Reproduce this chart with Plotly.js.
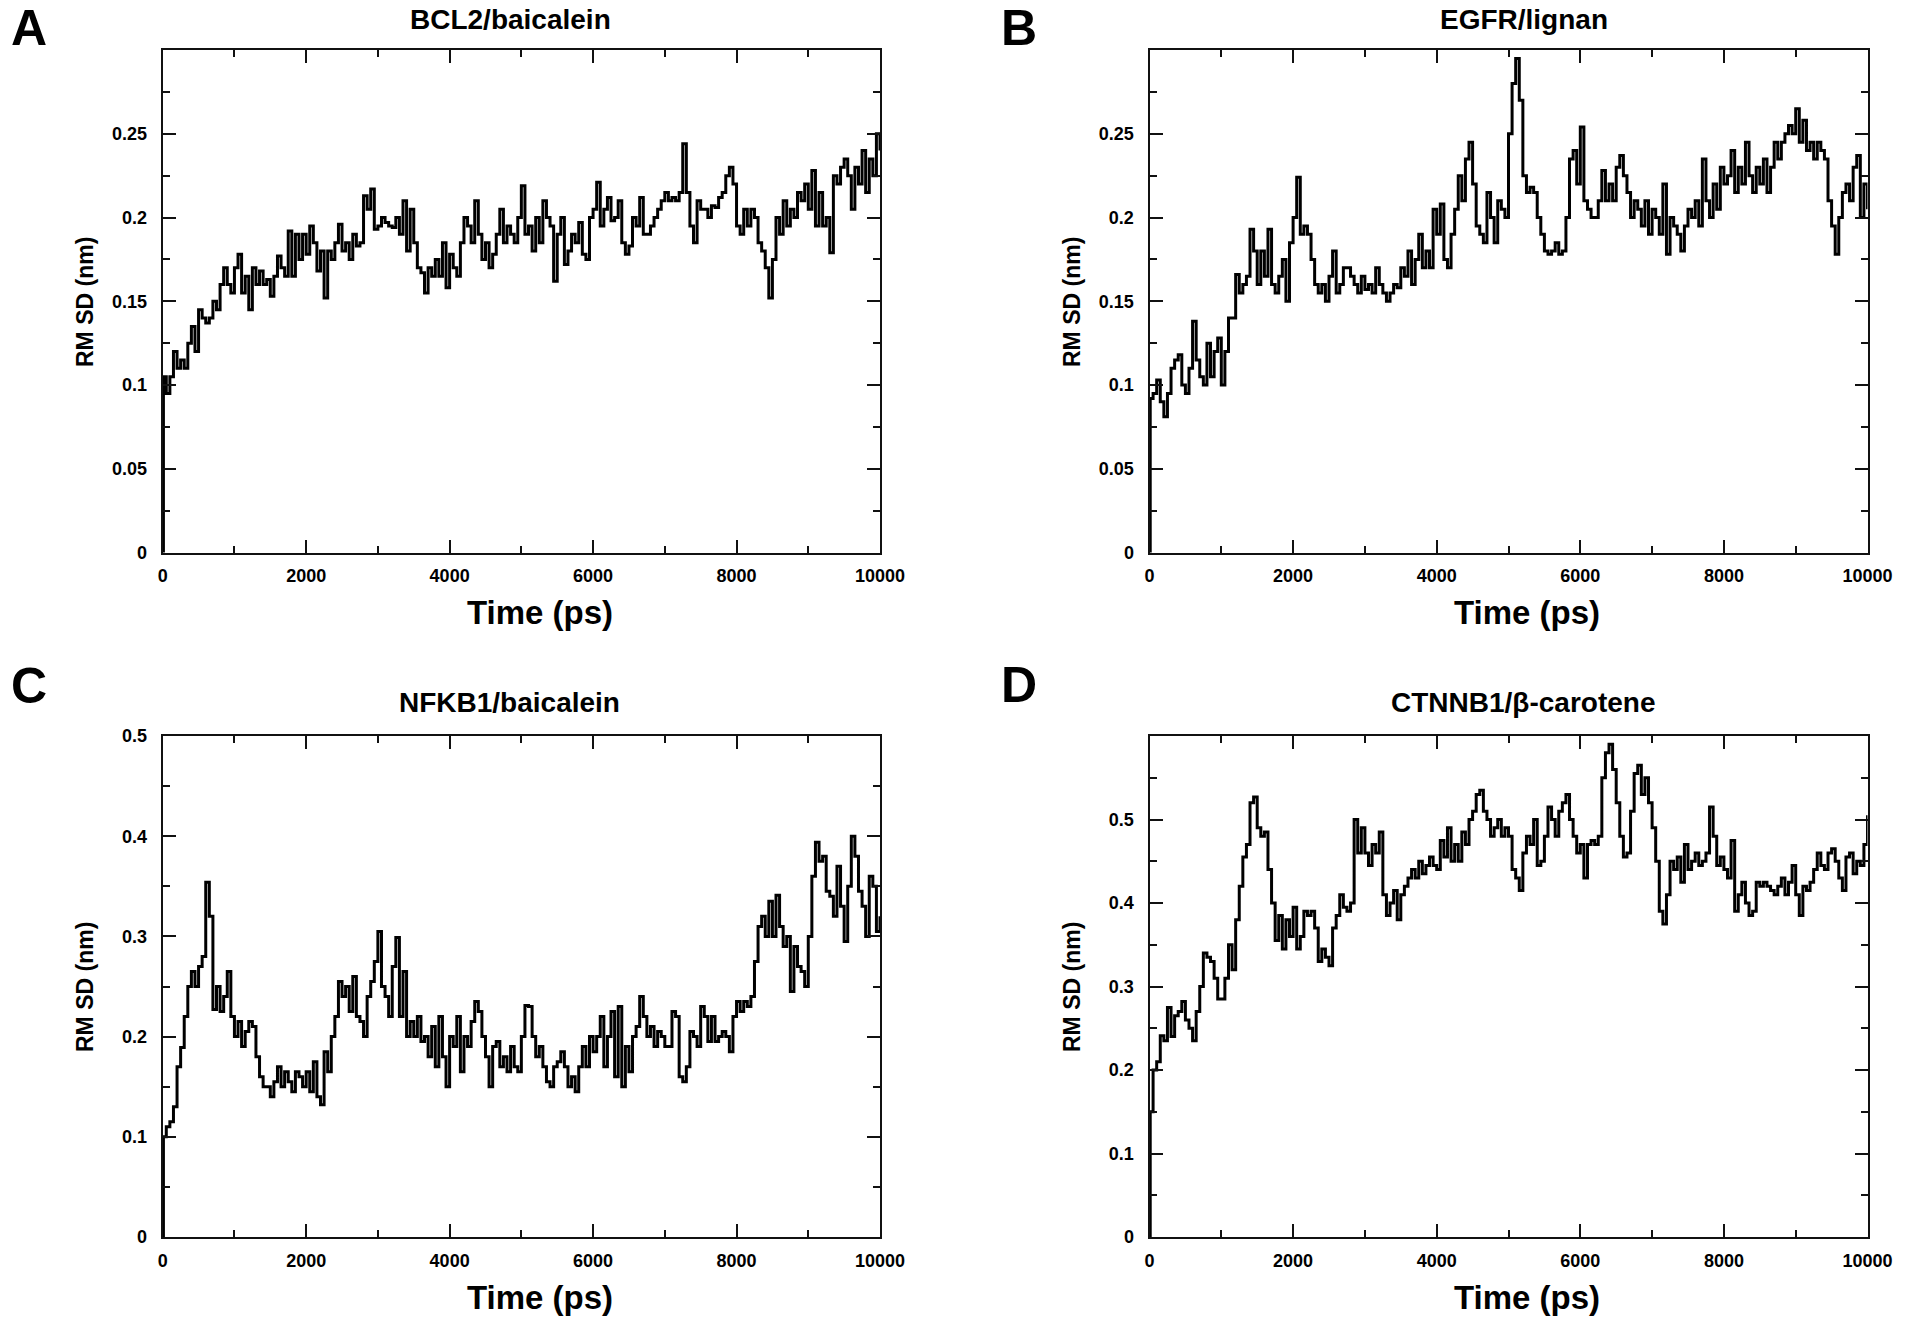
<!DOCTYPE html>
<html>
<head>
<meta charset="utf-8">
<script src="https://cdn.plot.ly/plotly-3.0.1.min.js"></script>
<style>html,body{margin:0;padding:0;background:#fff;}#chart{width:1905px;height:1327px;}</style>
</head>
<body>
<div id="chart"></div>
<script>
// ---- data (RMSD in nm, sampled at 0, 10, then every 50 ps) ----
const panelLetters = ["A", "B", "C", "D"];
const panelTitles = ["BCL2/baicalein", "EGFR/lignan", "NFKB1/baicalein", "CTNNB1/β-carotene"];
const xTickVals = [0, 2000, 4000, 6000, 8000, 10000];
const xTickText = ["0", "2000", "4000", "6000", "8000", "10000"];
const yTickValsAB = [0, 0.05, 0.1, 0.15, 0.2, 0.25];
const yTickTextAB = ["0", "0.05", "0.1", "0.15", "0.2", "0.25"];
const yTickValsC = [0, 0.1, 0.2, 0.3, 0.4, 0.5];
const yTickTextC = ["0", "0.1", "0.2", "0.3", "0.4", "0.5"];
const yTickValsD = [0, 0.1, 0.2, 0.3, 0.4, 0.5];
const yTickTextD = ["0", "0.1", "0.2", "0.3", "0.4", "0.5"];

const timePs = [0, 10];
for (let t = 50; t <= 10000; t += 50) timePs.push(t);

const rmsdBCL2 = [0, 0.105,
  0.095, 0.105, 0.12, 0.11, 0.115, 0.11, 0.125, 0.135, 0.12, 0.145,
  0.14, 0.137, 0.14, 0.15, 0.145, 0.16, 0.17, 0.16, 0.155, 0.17,
  0.178, 0.155, 0.165, 0.145, 0.17, 0.16, 0.168, 0.16, 0.163, 0.153,
  0.165, 0.177, 0.17, 0.165, 0.192, 0.165, 0.19, 0.175, 0.19, 0.178,
  0.195, 0.185, 0.168, 0.18, 0.152, 0.18, 0.175, 0.185, 0.196, 0.18,
  0.185, 0.175, 0.19, 0.183, 0.185, 0.213, 0.205, 0.217, 0.193, 0.195,
  0.2, 0.197, 0.195, 0.194, 0.2, 0.19, 0.21, 0.18, 0.205, 0.185,
  0.17, 0.167, 0.155, 0.17, 0.165, 0.175, 0.165, 0.185, 0.158, 0.178,
  0.17, 0.165, 0.185, 0.2, 0.195, 0.185, 0.21, 0.19, 0.175, 0.185,
  0.17, 0.178, 0.19, 0.205, 0.185, 0.195, 0.19, 0.185, 0.2, 0.219,
  0.19, 0.195, 0.18, 0.2, 0.185, 0.21, 0.2, 0.195, 0.162, 0.19,
  0.2, 0.172, 0.18, 0.19, 0.185, 0.197, 0.178, 0.175, 0.2, 0.205,
  0.221, 0.195, 0.205, 0.212, 0.198, 0.2, 0.21, 0.185, 0.178, 0.183,
  0.2, 0.195, 0.212, 0.19, 0.19, 0.195, 0.2, 0.205, 0.21, 0.215,
  0.21, 0.212, 0.21, 0.215, 0.244, 0.215, 0.195, 0.185, 0.21, 0.205,
  0.205, 0.2, 0.207, 0.206, 0.212, 0.215, 0.225, 0.23, 0.22, 0.195,
  0.19, 0.205, 0.195, 0.205, 0.2, 0.185, 0.18, 0.17, 0.152, 0.175,
  0.2, 0.19, 0.21, 0.195, 0.205, 0.2, 0.215, 0.21, 0.22, 0.205,
  0.228, 0.195, 0.215, 0.195, 0.2, 0.179, 0.225, 0.22, 0.23, 0.235,
  0.225, 0.205, 0.23, 0.22, 0.24, 0.215, 0.235, 0.225, 0.25, 0.24];

const rmsdEGFR = [0, 0.092,
  0.095, 0.103, 0.09, 0.081, 0.095, 0.11, 0.115, 0.118, 0.1, 0.095,
  0.11, 0.138, 0.115, 0.105, 0.1, 0.125, 0.105, 0.12, 0.128, 0.1,
  0.12, 0.14, 0.14, 0.166, 0.155, 0.16, 0.165, 0.193, 0.18, 0.16,
  0.18, 0.165, 0.193, 0.16, 0.155, 0.165, 0.175, 0.15, 0.185, 0.2,
  0.224, 0.19, 0.195, 0.19, 0.175, 0.16, 0.155, 0.16, 0.15, 0.165,
  0.18, 0.155, 0.16, 0.17, 0.17, 0.165, 0.16, 0.155, 0.165, 0.157,
  0.16, 0.155, 0.17, 0.16, 0.155, 0.15, 0.155, 0.16, 0.158, 0.17,
  0.165, 0.18, 0.16, 0.175, 0.19, 0.17, 0.18, 0.17, 0.205, 0.19,
  0.208, 0.175, 0.17, 0.19, 0.205, 0.225, 0.21, 0.235, 0.245, 0.22,
  0.195, 0.19, 0.185, 0.215, 0.2, 0.185, 0.21, 0.205, 0.2, 0.25,
  0.28, 0.295, 0.27, 0.225, 0.215, 0.218, 0.215, 0.2, 0.19, 0.18,
  0.178, 0.18, 0.185, 0.178, 0.18, 0.2, 0.235, 0.24, 0.22, 0.254,
  0.21, 0.205, 0.2, 0.2, 0.21, 0.228, 0.21, 0.22, 0.21, 0.23,
  0.237, 0.225, 0.215, 0.2, 0.21, 0.205, 0.195, 0.21, 0.19, 0.205,
  0.2, 0.19, 0.22, 0.178, 0.2, 0.195, 0.19, 0.18, 0.195, 0.205,
  0.2, 0.21, 0.195, 0.235, 0.21, 0.2, 0.22, 0.205, 0.23, 0.22,
  0.225, 0.24, 0.215, 0.23, 0.22, 0.245, 0.225, 0.215, 0.23, 0.22,
  0.235, 0.215, 0.23, 0.245, 0.235, 0.245, 0.25, 0.255, 0.25, 0.265,
  0.245, 0.258, 0.24, 0.245, 0.235, 0.245, 0.24, 0.235, 0.21, 0.195,
  0.178, 0.2, 0.215, 0.22, 0.21, 0.23, 0.237, 0.2, 0.22, 0.205];

const rmsdNFKB1 = [0, 0.1,
  0.11, 0.115, 0.13, 0.17, 0.189, 0.22, 0.25, 0.265, 0.25, 0.27,
  0.28, 0.354, 0.32, 0.227, 0.25, 0.225, 0.24, 0.265, 0.22, 0.2,
  0.215, 0.19, 0.205, 0.215, 0.21, 0.18, 0.16, 0.15, 0.15, 0.14,
  0.155, 0.17, 0.15, 0.165, 0.155, 0.145, 0.165, 0.16, 0.15, 0.165,
  0.145, 0.175, 0.14, 0.132, 0.185, 0.165, 0.2, 0.22, 0.255, 0.24,
  0.25, 0.225, 0.26, 0.22, 0.215, 0.2, 0.24, 0.255, 0.275, 0.305,
  0.25, 0.24, 0.22, 0.27, 0.299, 0.22, 0.265, 0.2, 0.215, 0.2,
  0.22, 0.195, 0.2, 0.18, 0.21, 0.17, 0.22, 0.18, 0.15, 0.2,
  0.19, 0.22, 0.165, 0.2, 0.19, 0.215, 0.235, 0.225, 0.2, 0.18,
  0.15, 0.19, 0.195, 0.17, 0.18, 0.165, 0.19, 0.17, 0.165, 0.2,
  0.231, 0.23, 0.2, 0.18, 0.19, 0.17, 0.155, 0.15, 0.17, 0.175,
  0.185, 0.17, 0.15, 0.16, 0.145, 0.17, 0.19, 0.17, 0.2, 0.185,
  0.2, 0.22, 0.17, 0.2, 0.225, 0.16, 0.23, 0.15, 0.19, 0.165,
  0.2, 0.21, 0.24, 0.22, 0.2, 0.21, 0.19, 0.205, 0.2, 0.19,
  0.19, 0.225, 0.22, 0.16, 0.155, 0.17, 0.205, 0.2, 0.19, 0.23,
  0.22, 0.195, 0.22, 0.195, 0.2, 0.205, 0.2, 0.185, 0.22, 0.235,
  0.225, 0.235, 0.23, 0.24, 0.275, 0.31, 0.32, 0.3, 0.335, 0.3,
  0.341, 0.31, 0.29, 0.3, 0.245, 0.29, 0.27, 0.265, 0.25, 0.3,
  0.36, 0.394, 0.375, 0.38, 0.345, 0.34, 0.32, 0.37, 0.33, 0.295,
  0.35, 0.4, 0.38, 0.345, 0.33, 0.3, 0.36, 0.35, 0.305, 0.32];

const rmsdCTNNB1 = [0, 0.15,
  0.2, 0.21, 0.241, 0.235, 0.275, 0.24, 0.265, 0.27, 0.282, 0.26,
  0.25, 0.235, 0.27, 0.3, 0.34, 0.335, 0.33, 0.31, 0.285, 0.285,
  0.31, 0.35, 0.32, 0.38, 0.42, 0.455, 0.47, 0.52, 0.527, 0.49,
  0.48, 0.485, 0.44, 0.4, 0.355, 0.385, 0.345, 0.38, 0.36, 0.395,
  0.345, 0.36, 0.39, 0.385, 0.39, 0.37, 0.33, 0.345, 0.335, 0.325,
  0.37, 0.385, 0.41, 0.395, 0.39, 0.4, 0.5, 0.46, 0.49, 0.46,
  0.445, 0.47, 0.46, 0.485, 0.41, 0.385, 0.4, 0.415, 0.38, 0.41,
  0.42, 0.43, 0.44, 0.43, 0.45, 0.435, 0.445, 0.455, 0.445, 0.44,
  0.475, 0.455, 0.49, 0.45, 0.47, 0.45, 0.485, 0.47, 0.5, 0.51,
  0.53, 0.535, 0.51, 0.5, 0.48, 0.49, 0.5, 0.48, 0.49, 0.48,
  0.44, 0.43, 0.415, 0.46, 0.48, 0.47, 0.5, 0.445, 0.45, 0.48,
  0.515, 0.5, 0.48, 0.51, 0.52, 0.53, 0.5, 0.48, 0.46, 0.47,
  0.43, 0.47, 0.475, 0.47, 0.48, 0.55, 0.58, 0.59, 0.56, 0.52,
  0.48, 0.455, 0.46, 0.51, 0.555, 0.565, 0.53, 0.55, 0.52, 0.49,
  0.45, 0.39, 0.375, 0.41, 0.45, 0.44, 0.455, 0.425, 0.47, 0.44,
  0.45, 0.46, 0.445, 0.45, 0.46, 0.515, 0.48, 0.445, 0.455, 0.44,
  0.43, 0.475, 0.39, 0.41, 0.425, 0.4, 0.385, 0.39, 0.425, 0.42,
  0.425, 0.42, 0.415, 0.41, 0.42, 0.43, 0.41, 0.425, 0.445, 0.41,
  0.385, 0.42, 0.415, 0.425, 0.44, 0.46, 0.445, 0.44, 0.46, 0.465,
  0.45, 0.43, 0.415, 0.455, 0.46, 0.435, 0.45, 0.445, 0.47, 0.505];

// ---- layout geometry (pixels) ----
const W = 1905, H = 1327;
const FONT = "Liberation Sans, Arial, sans-serif";
const colL = [162.7, 880], colR = [1149.5, 1867.5];
const rowT = [50, 552.5], rowB = [736, 1237];
const fx = p => p / W, fy = p => 1 - p / H;

function xAxis(col, anchor) {
  return {
    domain: [fx(col[0]), fx(col[1])], anchor: anchor,
    range: [0, 10000], tickmode: "array", tickvals: xTickVals, ticktext: xTickText,
    ticks: "inside", ticklen: 13, tickwidth: 2, tickcolor: "#111",
    minor: {dtick: 1000, tick0: 0, ticks: "inside", ticklen: 7, tickwidth: 2, tickcolor: "#111"},
    showline: true, linewidth: 2, linecolor: "#111", mirror: "allticks",
    showgrid: false, zeroline: false, fixedrange: true,
    ticklabelstandoff: 6,
    tickfont: {family: FONT, size: 18, color: "#000", weight: "bold"}
  };
}
function yAxis(row, anchor, maxV, vals, text, minorStep) {
  return {
    domain: [fy(row[1]), fy(row[0])], anchor: anchor,
    range: [0, maxV], tickmode: "array", tickvals: vals, ticktext: text,
    ticks: "inside", ticklen: 13, tickwidth: 2, tickcolor: "#111",
    minor: {dtick: minorStep, tick0: 0, ticks: "inside", ticklen: 7, tickwidth: 2, tickcolor: "#111"},
    showline: true, linewidth: 2, linecolor: "#111", mirror: "allticks",
    showgrid: false, zeroline: false, fixedrange: true,
    ticklabelstandoff: 10,
    tickfont: {family: FONT, size: 18, color: "#000", weight: "bold"}
  };
}

const series = [rmsdBCL2, rmsdEGFR, rmsdNFKB1, rmsdCTNNB1];
const traces = series.map((vals, i) => ({
  x: timePs, y: vals, type: "scatter", mode: "lines",
  line: {color: "#000", width: 3, shape: "hv"},
  xaxis: i === 0 ? "x" : "x" + (i + 1), yaxis: i === 0 ? "y" : "y" + (i + 1),
  hoverinfo: "skip", showlegend: false
}));

const ann = [];
const letterPos = [[29, 28], [1019, 28], [29, 686], [1019, 685]];
const titlePos = [[511, 19], [1524, 19], [509, 702], [1523, 702]];
const yLabPos = [[85, 302], [1072, 302], [85, 987], [1072, 987]];
const xLabPos = [[540, 612], [1527, 612], [540, 1297], [1527, 1297]];
for (let i = 0; i < 4; i++) {
  ann.push({text: panelLetters[i], x: fx(letterPos[i][0]), y: fy(letterPos[i][1]), xref: "paper", yref: "paper",
    showarrow: false, xanchor: "center", yanchor: "middle", font: {family: FONT, size: 50, color: "#000", weight: "bold"}});
  ann.push({text: panelTitles[i], x: fx(titlePos[i][0]), y: fy(titlePos[i][1]), xref: "paper", yref: "paper",
    showarrow: false, xanchor: "center", yanchor: "middle", font: {family: FONT, size: 28, color: "#000", weight: "bold"}});
  ann.push({text: "RM SD (nm)", x: fx(yLabPos[i][0]), y: fy(yLabPos[i][1]), xref: "paper", yref: "paper", textangle: -90,
    showarrow: false, xanchor: "center", yanchor: "middle", font: {family: FONT, size: 23, color: "#000", weight: "bold"}});
  ann.push({text: "Time (ps)", x: fx(xLabPos[i][0]), y: fy(xLabPos[i][1]), xref: "paper", yref: "paper",
    showarrow: false, xanchor: "center", yanchor: "middle", font: {family: FONT, size: 33, color: "#000", weight: "bold"}});
}

const layout = {
  width: W, height: H, margin: {l: 0, r: 0, t: 0, b: 0},
  paper_bgcolor: "#fff", plot_bgcolor: "#fff", showlegend: false, hovermode: false,
  xaxis: xAxis(colL, "y"), yaxis: yAxis(rowT, "x", 0.3, yTickValsAB, yTickTextAB, 0.025),
  xaxis2: xAxis(colR, "y2"), yaxis2: yAxis(rowT, "x2", 0.3, yTickValsAB, yTickTextAB, 0.025),
  xaxis3: xAxis(colL, "y3"), yaxis3: yAxis(rowB, "x3", 0.5, yTickValsC, yTickTextC, 0.05),
  xaxis4: xAxis(colR, "y4"), yaxis4: yAxis(rowB, "x4", 0.6, yTickValsD, yTickTextD, 0.05),
  annotations: ann
};

Plotly.newPlot("chart", traces, layout, {displayModeBar: false, staticPlot: true});
</script>
</body>
</html>
